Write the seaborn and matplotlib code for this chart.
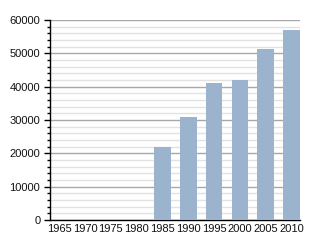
import matplotlib
matplotlib.use("Agg")
import matplotlib.pyplot as plt
import seaborn as sns
import pandas as pd
from matplotlib.ticker import MultipleLocator

years = ["1965", "1970", "1975", "1980", "1985", "1990", "1995", "2000", "2005", "2010"]
population = [0, 0, 0, 0, 22000, 31000, 41200, 42000, 51300, 57000]

df = pd.DataFrame({"year": years, "pop": population})

sns.set_style("white")
plt.rcParams['font.family'] = ['Liberation Sans', 'DejaVu Sans']

fig = plt.figure(figsize=(3.2, 2.4), dpi=100)
ax = fig.add_axes([50/320, 20/240, 250/320, 200/240])

sns.barplot(data=df, x="year", y="pop", color="#9bb3cd", saturation=1,
            width=0.65, linewidth=0, edgecolor="none", ax=ax, zorder=3)

ax.set_xlim(-0.36, 9.33)
ax.set_ylim(0, 60000)
ax.yaxis.set_major_locator(MultipleLocator(10000))
ax.yaxis.set_minor_locator(MultipleLocator(2000))
ax.grid(which="major", axis="y", color="#a8a8a8", linewidth=1, zorder=0)
ax.grid(which="minor", axis="y", color="#e2e2e2", linewidth=1, zorder=0)
ax.set_axisbelow(True)

for s in ["top", "right"]:
    ax.spines[s].set_visible(False)
ax.spines["left"].set_color("black")
ax.spines["bottom"].set_color("black")
ax.spines["left"].set_linewidth(1)
ax.spines["bottom"].set_linewidth(1)

ax.tick_params(axis="y", which="major", direction="out", length=4, width=1,
               color="black", labelsize=8.0, labelcolor="#111111", pad=3, left=True)
ax.tick_params(axis="y", which="minor", direction="out", length=2.5, width=1,
               color="black", left=True)
ax.tick_params(axis="x", length=0, labelsize=8.0, labelcolor="#111111", pad=3)
ax.set_xlabel("")
ax.set_ylabel("")

fig.savefig("out.png", dpi=100)
